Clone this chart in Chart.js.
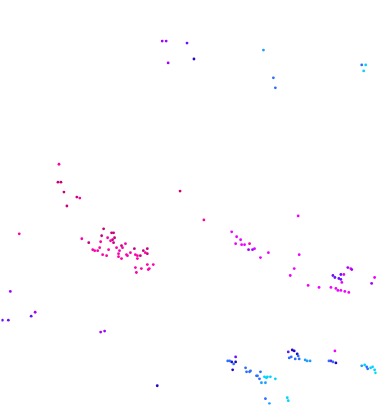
<!DOCTYPE html>
<html>
<head>
<meta charset="utf-8">
<script src="https://cdn.jsdelivr.net/npm/chart.js@4/dist/chart.umd.min.js"></script>
<style>
  html, body { margin: 0; padding: 0; background: #fff; }
  #wrap { width: 378px; height: 406px; }
</style>
</head>
<body>
<div id="wrap"><canvas id="scatterChart"></canvas></div>
<script>
// point groups, [x, y] (y grows downward)
const cyanPts = [[367,64],[365,70],[265,378],[267,379],[268,378],[271,378],[276,380],[288,399],[289,402],
	[366,366],[372,369],[374,368],[376,371],[377,374]];
const lightBluePts = [[264,49],[262,384],[266,384],[270,405],[306,361],[308,362],[311,362],[363,367]];
const bluePts = [[274,77],[276,87],[363,64],[228,362],[230,362],[234,365],[246,369],[247,373],[250,373],[251,372],
	[257,377],[258,377],[260,380],[261,373],[266,400],[299,357],[300,360],[290,359],[292,358],[296,360],
	[330,362],[334,363],[368,368],[369,370]];
const darkBluePts = [[194,58],[157,387],[232,363],[236,363],[233,371],[293,351],[295,352],[298,355],[337,364]];
const violetPts = [[187,42],[30,317],[1,321],[7,321],[236,358],[289,353],[332,362],
	[334,276],[336,278],[342,275],[340,279],[342,280]];
const purplePts = [[162,40],[166,40],[168,62],[9,292],[34,313],[100,333],[104,332],[249,250],[253,250],
	[349,268],[353,270],[373,284]];
const magentaPts = [[299,216],[232,232],[237,237],[241,240],[236,244],[242,245],[245,245],[255,249],[261,258],
	[269,253],[300,255],[295,269],[291,276],[352,269],[345,275],[343,283],[309,286],[320,288],[332,288],
	[337,289],[339,291],[342,291],[346,292],[350,293],[376,278],[336,352]];
const pinkPts = [[58,164],[79,198],[18,234],[204,220],[250,244],[107,238],[81,239],[110,241],[100,242],[99,248],
	[94,251],[97,251],[92,250],[108,250],[116,248],[122,248],[125,244],[119,251],[102,255],[106,256],
	[118,254],[118,257],[126,255],[127,256],[130,253],[121,259],[135,255],[137,256],[145,253],[137,259],
	[135,268],[136,273],[141,269],[147,265],[149,269],[153,265],[148,270]];
const deepPinkPts = [[57,182],[60,182],[63,192],[76,197],[66,206],[180,191],[103,229],[111,233],[113,233],
	[101,236],[114,238],[88,243],[112,240],[113,243],[121,246],[134,249],[140,256],[143,251],[147,249],[147,254]];

const groups = [
	{ pts: cyanPts, color: "#00d4ff" },
	{ pts: lightBluePts, color: "#1e9cff" },
	{ pts: bluePts, color: "#2f6dff" },
	{ pts: darkBluePts, color: "#2008c8" },
	{ pts: violetPts, color: "#6a10ff" },
	{ pts: purplePts, color: "#a400ff" },
	{ pts: magentaPts, color: "#f000ff" },
	{ pts: pinkPts, color: "#ff00a8" },
	{ pts: deepPinkPts, color: "#c8007e" }
];

const datasets = groups.map(g => ({
	data: g.pts.map(p => ({ x: p[0], y: p[1] })),
	backgroundColor: g.color,
	borderWidth: 0,
	pointRadius: 1.4,
	pointHoverRadius: 1.4
}));

new Chart(document.getElementById("scatterChart"), {
	type: "scatter",
	data: { datasets: datasets },
	options: {
		responsive: true,
		maintainAspectRatio: false,
		animation: false,
		layout: { padding: 0 },
		plugins: { legend: { display: false }, tooltip: { enabled: false } },
		scales: {
			x: { display: false, min: 0, max: 378 },
			y: { display: false, min: 0, max: 406, reverse: true }
		}
	}
});
</script>
</body>
</html>
